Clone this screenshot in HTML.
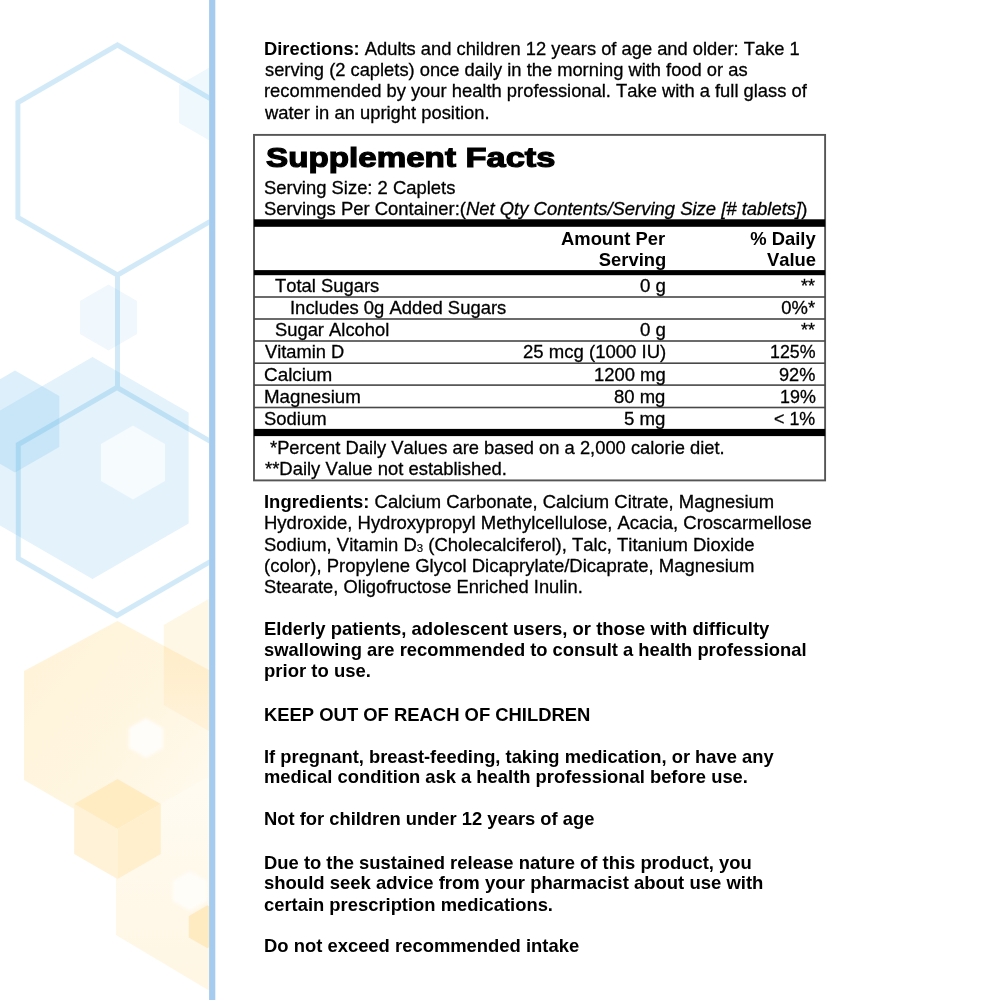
<!DOCTYPE html>
<html lang="en"><head><meta charset="utf-8"><title>Supplement Facts</title>
<style>
html,body{margin:0;padding:0;background:#fff}
#page{position:relative;width:1000px;height:1000px;overflow:hidden;background:#fff;font-family:"Liberation Sans",Arial,Helvetica,sans-serif;font-size:18.4px;color:#000}
#bg{position:absolute;left:0;top:0;width:209px;height:1000px;overflow:hidden}
.t{position:absolute;white-space:pre;line-height:normal;font-family:"Liberation Sans",Arial,Helvetica,sans-serif;font-size:18.4px;color:#000;transform-origin:0 0;font-kerning:none;-webkit-text-stroke:0.3px #000}
.t b,.t.b{font-weight:bold;-webkit-text-stroke:0}
.sub{font-size:0.62em;position:relative;top:0.1em;-webkit-text-stroke:0.15px #000}

h1{position:absolute;margin:0;left:0;top:0;font-size:28.4px;font-weight:bold;white-space:pre;line-height:normal}
h1 span{position:absolute;display:block;top:140.5px;transform-origin:0 0;-webkit-text-stroke:1.2px #000}
</style></head><body>
<div id="page">
<div id="bg"><svg width="209" height="1000" viewBox="0 0 209 1000">
<defs><filter id="bl" x="-30%" y="-30%" width="160%" height="160%"><feGaussianBlur stdDeviation="1.6"/></filter><filter id="bl2" x="-30%" y="-30%" width="160%" height="160%"><feGaussianBlur stdDeviation="0.7"/></filter><linearGradient id="gbig" gradientUnits="userSpaceOnUse" x1="40" y1="660" x2="205" y2="800"><stop offset="0" stop-color="#fff4da"/><stop offset="0.55" stop-color="#fff6e1"/><stop offset="1" stop-color="#fffaee"/></linearGradient><linearGradient id="glow" gradientUnits="userSpaceOnUse" x1="160" y1="790" x2="160" y2="990"><stop offset="0" stop-color="#fffbf1"/><stop offset="1" stop-color="#fff6e3"/></linearGradient><linearGradient id="gov" gradientUnits="userSpaceOnUse" x1="185" y1="650" x2="185" y2="725"><stop offset="0" stop-color="#ffedca"/><stop offset="1" stop-color="#fff2d8"/></linearGradient><clipPath id="cbig"><polygon points="117.5,621.0 211.0,671.0 211.0,780.0 117.5,834.0 24.0,780.0 24.0,671.0" /></clipPath></defs>
<polygon points="92.5,357.0 188.6,412.5 188.6,523.5 92.5,579.0 -3.6,523.5 -3.6,412.5" fill="#e3f2fb"/>
<polygon points="15.0,370.5 59.2,396.0 59.2,447.0 15.0,472.5 -29.2,447.0 -29.2,396.0" fill="#8fcbef" fill-opacity="0.31"/>
<polygon points="133.0,425.5 165.0,444.0 165.0,481.0 133.0,499.5 101.0,481.0 101.0,444.0" fill="#f6fbfe" filter="url(#bl2)"/>
<polygon points="108.5,284.5 137.1,301.0 137.1,334.0 108.5,350.5 79.9,334.0 79.9,301.0" fill="#f0f8fd"/>
<polygon points="212.0,66.0 244.9,85.0 244.9,123.0 212.0,142.0 179.1,123.0 179.1,85.0" fill="#eff8fd"/>
<g fill="none" stroke="#5fb4e6" opacity="0.28" stroke-width="5">
<polygon points="117.5,45.0 217.1,102.5 217.1,217.5 117.5,275.0 17.9,217.5 17.9,102.5" />
<polygon points="117.0,387.5 215.7,444.5 215.7,558.5 117.0,615.5 18.3,558.5 18.3,444.5" />
<line x1="117.5" y1="275" x2="117.5" y2="387.5"/>
</g>
<polygon points="233.0,585.0 302.3,625.0 302.3,705.0 233.0,745.0 163.7,705.0 163.7,625.0" fill="#fff7e5"/>
<polygon points="117.5,621.0 211.0,671.0 211.0,780.0 117.5,834.0 24.0,780.0 24.0,671.0" fill="url(#gbig)"/>
<polygon points="233.0,585.0 302.3,625.0 302.3,705.0 233.0,745.0 163.7,705.0 163.7,625.0" fill="url(#gov)" clip-path="url(#cbig)"/>
<polygon points="116.0,830.0 207.0,777.5 300.0,830.0 300.0,935.0 209.0,990.5 116.0,935.0" fill="url(#glow)"/>
<polygon points="117.5,779.0 160.8,804.0 117.5,829.0 74.2,804.0" fill="#ffecc3"/>
<polygon points="74.2,804.0 117.5,829.0 117.5,879.0 74.2,854.0" fill="#fff2d6"/>
<polygon points="160.8,804.0 160.8,854.0 117.5,879.0 117.5,829.0" fill="#ffefcd"/>
<polygon points="146.0,718.0 163.3,728.0 163.3,748.0 146.0,758.0 128.7,748.0 128.7,728.0" fill="#fffdf9" filter="url(#bl)"/>
<polygon points="190.0,871.0 207.3,881.0 207.3,901.0 190.0,911.0 172.7,901.0 172.7,881.0" fill="#fffdf8" filter="url(#bl)"/>
<polygon points="207.4,905.2 226.0,916.0 226.0,937.5 207.4,948.2 188.8,937.5 188.8,916.0" fill="#ffebc2"/>
</svg></div>
<svg id="tbl" width="1000" height="1000" viewBox="0 0 1000 1000" style="position:absolute;left:0;top:0">
<rect x="209.1" y="0" width="6.2" height="1000" fill="#a5cbee"/>
<rect x="254" y="134.9" width="571.1" height="345.5" fill="none" stroke="#555" stroke-width="1.9"/>
<rect x="254" y="219.3" width="571.1" height="7.5" fill="#000"/>
<rect x="254" y="270.1" width="571.1" height="5.1" fill="#000"/>
<g fill="#484848">
<rect x="254" y="296.2" width="571.1" height="1.6"/>
<rect x="254" y="318.2" width="571.1" height="1.6"/>
<rect x="254" y="340.2" width="571.1" height="1.6"/>
<rect x="254" y="362.4" width="571.1" height="1.6"/>
<rect x="254" y="384.3" width="571.1" height="1.6"/>
<rect x="254" y="406.7" width="571.1" height="1.6"/>
</g>
<rect x="254" y="428.9" width="571.1" height="7.2" fill="#000"/>
</svg>
<h1 id="sf"><span style="left:266.0px;transform:scaleX(1.169)">Supplement</span><span style="left:456.4px;transform:scaleX(1.212)"> Facts</span></h1>
<div class="t" style="left:263.95px;top:38.14px;transform:scaleX(0.9964);"><b>Directions:</b> Adults and children 12 years of age and older: Take 1</div>
<div class="t" style="left:264.50px;top:59.24px;transform:scaleX(0.9959);">serving (2 caplets) once daily in the morning with food or as</div>
<div class="t" style="left:264.00px;top:80.44px;transform:scaleX(0.9982);">recommended by your health professional. Take with a full glass of</div>
<div class="t" style="left:265.25px;top:101.64px;transform:scaleX(0.9989);">water in an upright position.</div>
<div class="t" style="left:264.25px;top:176.84px;transform:scaleX(1.0013);">Serving Size: 2 Caplets</div>
<div class="t" style="left:264.25px;top:198.04px;transform:scaleX(1.0028);">Servings Per Container:(<i>Net Qty Contents/Serving Size [# tablets]</i>)</div>
<div class="t b" style="left:561.00px;top:227.84px;">Amount Per</div>
<div class="t b" style="left:598.75px;top:248.64px;">Serving</div>
<div class="t b" style="left:750.25px;top:227.84px;">% Daily</div>
<div class="t b" style="left:767.00px;top:248.64px;">Value</div>
<div class="t" style="left:275.00px;top:274.84px;">Total Sugars</div>
<div class="t" style="left:639.69px;top:274.84px;transform:scaleX(1.0167);">0 g</div>
<div class="t" style="left:800.76px;top:274.84px;transform:scaleX(0.9714);">**</div>
<div class="t" style="left:289.80px;top:296.74px;transform:scaleX(1.0026);">Includes 0g Added Sugars</div>
<div class="t" style="left:781.30px;top:296.74px;">0%*</div>
<div class="t" style="left:274.50px;top:318.79px;transform:scaleX(0.9978);">Sugar Alcohol</div>
<div class="t" style="left:639.69px;top:318.79px;transform:scaleX(1.0167);">0 g</div>
<div class="t" style="left:800.76px;top:318.79px;transform:scaleX(0.9714);">**</div>
<div class="t" style="left:264.75px;top:341.44px;transform:scaleX(0.9930);">Vitamin D</div>
<div class="t" style="left:522.99px;top:341.44px;transform:scaleX(1.0086);">25 mcg (1000 IU)</div>
<div class="t" style="left:769.79px;top:341.44px;transform:scaleX(0.9680);">125%</div>
<div class="t" style="left:263.98px;top:363.64px;transform:scaleX(1.0263);">Calcium</div>
<div class="t" style="left:593.75px;top:363.64px;transform:scaleX(1.0007);">1200 mg</div>
<div class="t" style="left:778.96px;top:363.64px;transform:scaleX(0.9887);">92%</div>
<div class="t" style="left:263.93px;top:385.64px;transform:scaleX(1.0189);">Magnesium</div>
<div class="t" style="left:614.05px;top:385.64px;transform:scaleX(1.0051);">80 mg</div>
<div class="t" style="left:779.53px;top:385.64px;transform:scaleX(0.9729);">19%</div>
<div class="t" style="left:264.00px;top:407.74px;transform:scaleX(1.0041);">Sodium</div>
<div class="t" style="left:623.74px;top:407.74px;transform:scaleX(1.0139);">5 mg</div>
<div class="t" style="left:774.02px;top:407.74px;transform:scaleX(0.9709);">&lt; 1%</div>
<div class="t" style="left:270.15px;top:437.49px;transform:scaleX(0.9972);">*Percent Daily Values are based on a 2,000 calorie diet.</div>
<div class="t" style="left:264.75px;top:458.14px;transform:scaleX(1.0021);">**Daily Value not established.</div>
<div class="t" style="left:263.75px;top:490.64px;transform:scaleX(1.0023);"><b>Ingredients:</b> Calcium Carbonate, Calcium Citrate, Magnesium</div>
<div class="t" style="left:263.74px;top:512.24px;transform:scaleX(1.0055);">Hydroxide, Hydroxypropyl Methylcellulose, Acacia, Croscarmellose</div>
<div class="t" style="left:264.25px;top:533.54px;transform:scaleX(1.0036);">Sodium, Vitamin D<span class='sub'>3</span> (Cholecalciferol), Talc, Titanium Dioxide</div>
<div class="t" style="left:263.99px;top:554.84px;transform:scaleX(1.0060);">(color), Propylene Glycol Dicaprylate/Dicaprate, Magnesium</div>
<div class="t" style="left:264.25px;top:576.24px;transform:scaleX(0.9961);">Stearate, Oligofructose Enriched Inulin.</div>
<div class="t b" style="left:263.75px;top:618.24px;transform:scaleX(1.0030);">Elderly patients, adolescent users, or those with difficulty</div>
<div class="t b" style="left:264.25px;top:639.24px;transform:scaleX(0.9979);">swallowing are recommended to consult a health professional</div>
<div class="t b" style="left:263.74px;top:660.24px;transform:scaleX(1.0063);">prior to use.</div>
<div class="t b" style="left:263.75px;top:703.84px;transform:scaleX(1.0015);">KEEP OUT OF REACH OF CHILDREN</div>
<div class="t b" style="left:263.75px;top:745.54px;transform:scaleX(0.9974);">If pregnant, breast-feeding, taking medication, or have any</div>
<div class="t b" style="left:263.75px;top:766.24px;transform:scaleX(0.9990);">medical condition ask a health professional before use.</div>
<div class="t b" style="left:263.75px;top:808.44px;transform:scaleX(0.9977);">Not for children under 12 years of age</div>
<div class="t b" style="left:263.75px;top:852.04px;transform:scaleX(1.0008);">Due to the sustained release nature of this product, you</div>
<div class="t b" style="left:264.25px;top:872.24px;transform:scaleX(1.0054);">should seek advice from your pharmacist about use with</div>
<div class="t b" style="left:264.25px;top:893.74px;transform:scaleX(0.9991);">certain prescription medications.</div>
<div class="t b" style="left:263.75px;top:935.24px;transform:scaleX(1.0013);">Do not exceed recommended intake</div>
</div>
</body></html>
